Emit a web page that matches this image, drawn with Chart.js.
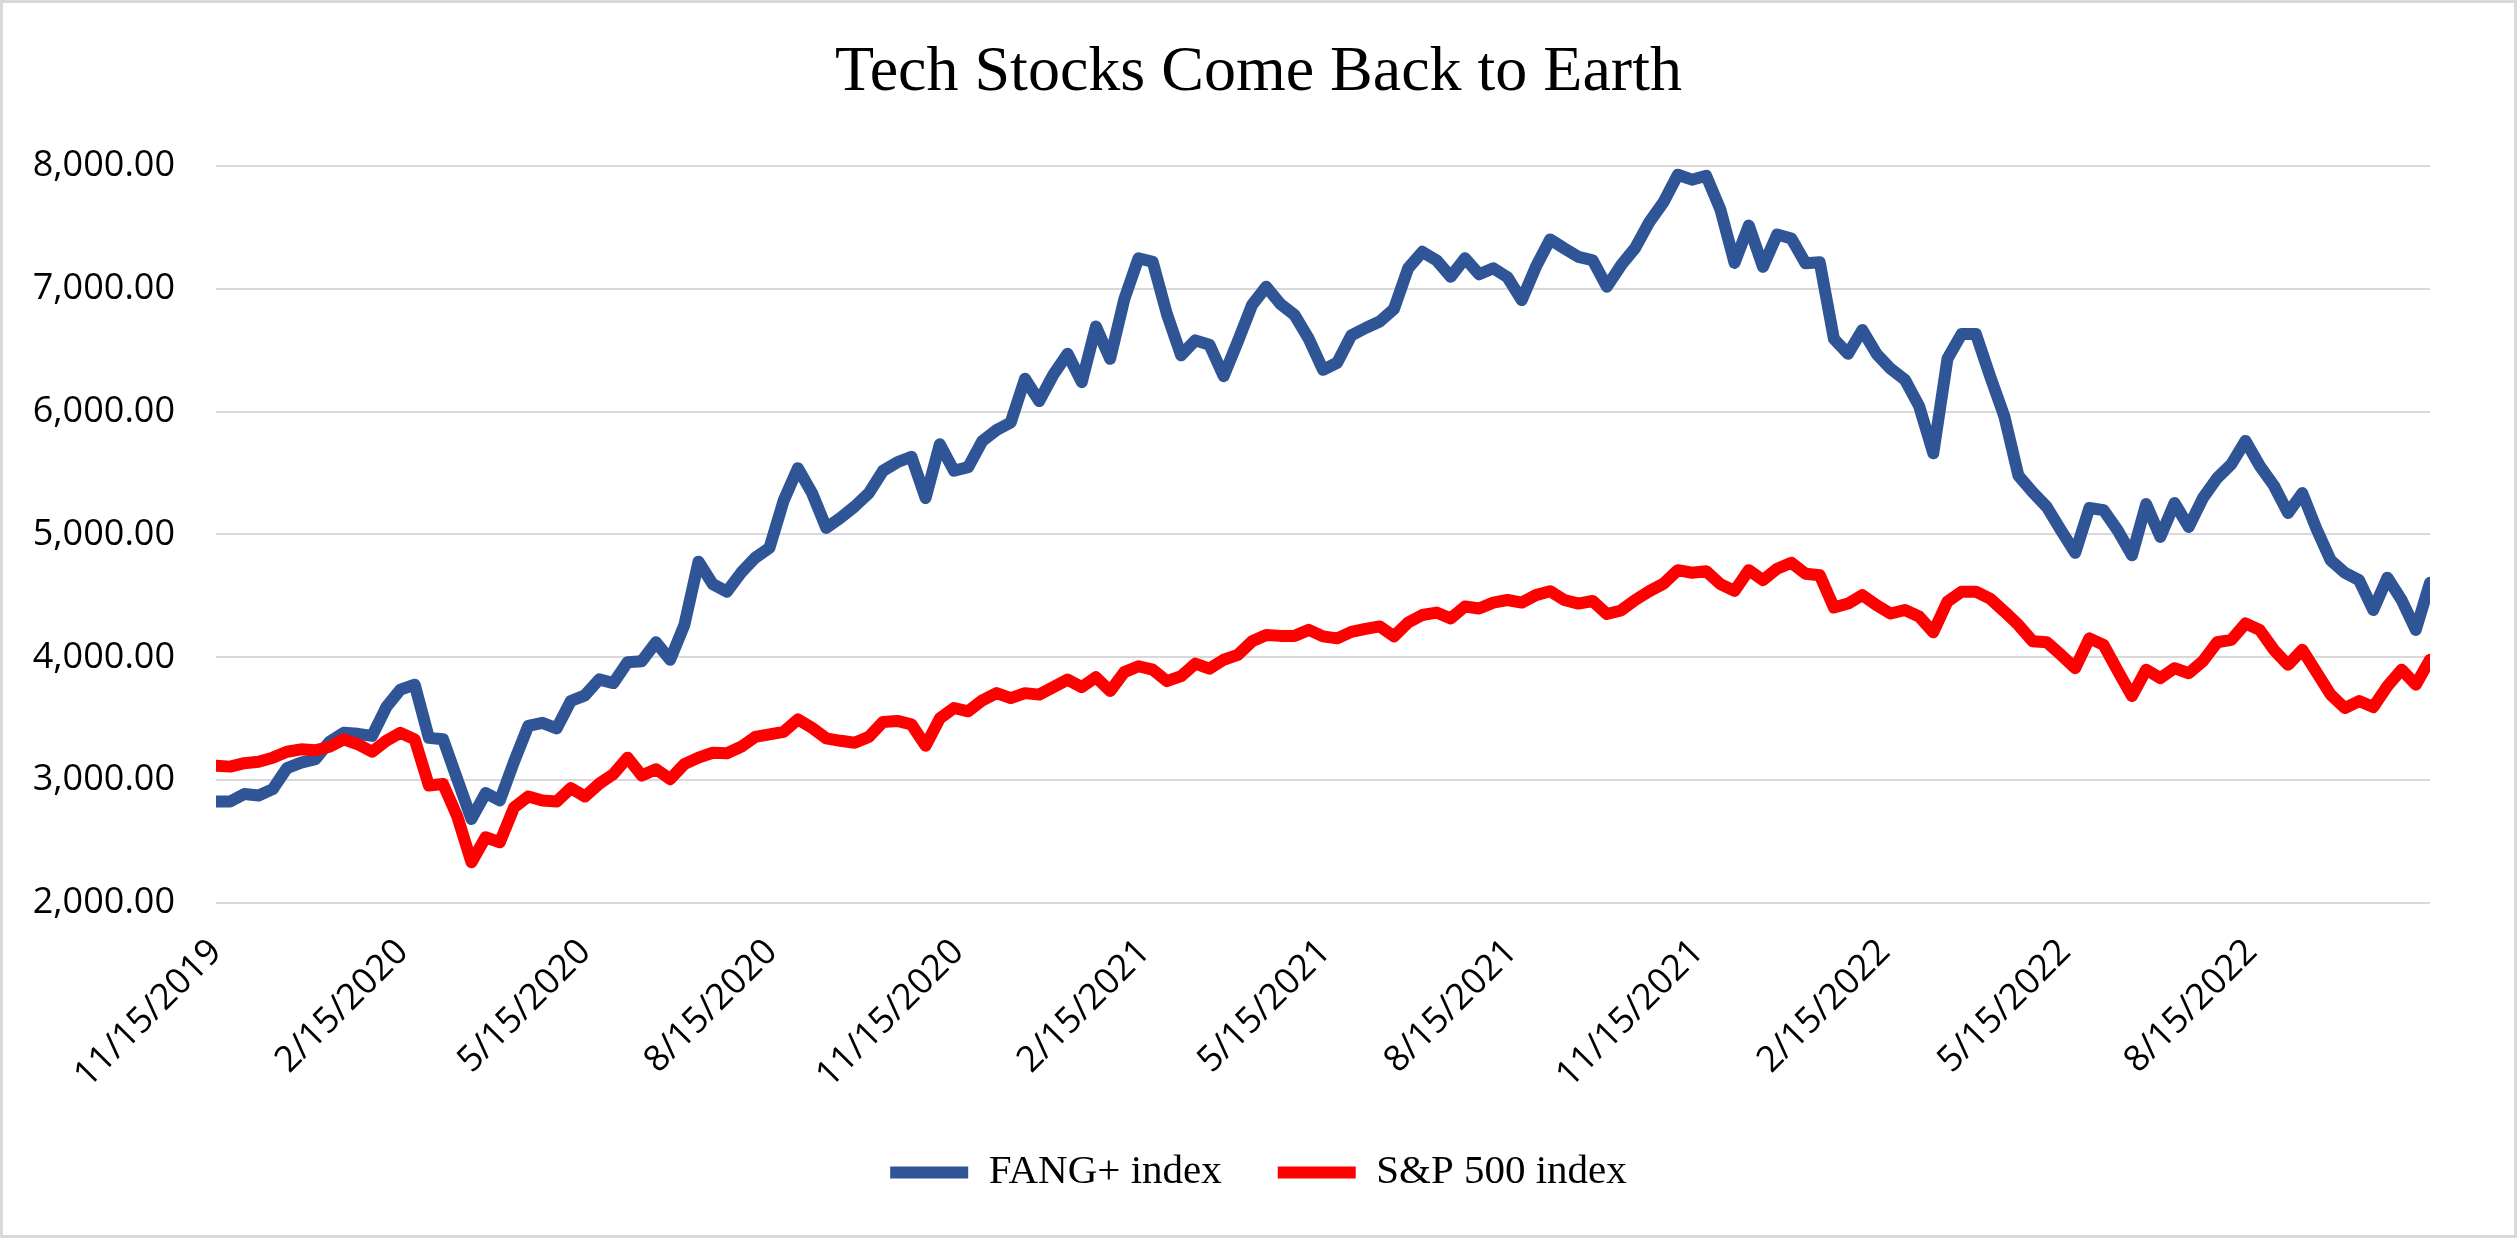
<!DOCTYPE html>
<html>
<head>
<meta charset="utf-8">
<script src="https://cdn.jsdelivr.net/npm/chart.js@4.4.1/dist/chart.umd.min.js"></script>
<style>
  html, body { margin: 0; padding: 0; background: #ffffff; }
  canvas { display: block; }
</style>
</head>
<body>
<canvas id="chart" width="2517" height="1238"></canvas>
<script>
// ---- Data (weekly closes) ----
const dates = [
  '2019-11-15','2019-11-22','2019-11-29','2019-12-06','2019-12-13','2019-12-20','2019-12-27',
  '2020-01-03','2020-01-10','2020-01-17','2020-01-24','2020-01-31','2020-02-07','2020-02-14','2020-02-21','2020-02-28',
  '2020-03-06','2020-03-13','2020-03-20','2020-03-27','2020-04-03','2020-04-10','2020-04-17','2020-04-24',
  '2020-05-01','2020-05-08','2020-05-15','2020-05-22','2020-05-29','2020-06-05','2020-06-12','2020-06-19','2020-06-26',
  '2020-07-03','2020-07-10','2020-07-17','2020-07-24','2020-07-31','2020-08-07','2020-08-14','2020-08-21','2020-08-28',
  '2020-09-04','2020-09-11','2020-09-18','2020-09-25','2020-10-02','2020-10-09','2020-10-16','2020-10-23','2020-10-30',
  '2020-11-06','2020-11-13','2020-11-20','2020-11-27','2020-12-04','2020-12-11','2020-12-18','2020-12-25',
  '2021-01-01','2021-01-08','2021-01-15','2021-01-22','2021-01-29','2021-02-05','2021-02-12','2021-02-19','2021-02-26',
  '2021-03-05','2021-03-12','2021-03-19','2021-03-26','2021-04-02','2021-04-09','2021-04-16','2021-04-23','2021-04-30',
  '2021-05-07','2021-05-14','2021-05-21','2021-05-28','2021-06-04','2021-06-11','2021-06-18','2021-06-25',
  '2021-07-02','2021-07-09','2021-07-16','2021-07-23','2021-07-30','2021-08-06','2021-08-13','2021-08-20','2021-08-27',
  '2021-09-03','2021-09-10','2021-09-17','2021-09-24','2021-10-01','2021-10-08','2021-10-15','2021-10-22','2021-10-29',
  '2021-11-05','2021-11-12','2021-11-19','2021-11-26','2021-12-03','2021-12-10','2021-12-17','2021-12-24','2021-12-31',
  '2022-01-07','2022-01-14','2022-01-21','2022-01-28','2022-02-04','2022-02-11','2022-02-18','2022-02-25',
  '2022-03-04','2022-03-11','2022-03-18','2022-03-25','2022-04-01','2022-04-08','2022-04-15','2022-04-22','2022-04-29',
  '2022-05-06','2022-05-13','2022-05-20','2022-05-27','2022-06-03','2022-06-10','2022-06-17','2022-06-24',
  '2022-07-01','2022-07-08','2022-07-15','2022-07-22','2022-07-29','2022-08-05','2022-08-12','2022-08-19','2022-08-26',
  '2022-09-02','2022-09-09','2022-09-16','2022-09-23','2022-09-30','2022-10-07','2022-10-14','2022-10-21','2022-10-28',
  '2022-11-04','2022-11-11'
];

const fangIndex = [
  2826,2826,2887,2875,2927,3097,3142,
  3170,3312,3385,3377,3360,3595,3737,3777,3344,
  3332,3008,2684,2895,2834,3150,3441,3466,
  3421,3644,3690,3820,3790,3960,3968,4122,3980,
  4263,4778,4595,4534,4688,4810,4891,5276,5539,
  5336,5053,5134,5227,5336,5518,5587,5632,5296,
  5733,5518,5547,5761,5850,5911,6267,6085,
  6300,6470,6239,6692,6429,6915,7247,7219,6794,
  6458,6579,6543,6288,6571,6867,7016,6875,6785,
  6591,6340,6397,6620,6680,6733,6834,7166,
  7300,7231,7097,7247,7117,7166,7093,6907,7178,
  7401,7328,7259,7231,7016,7190,7332,7543,7705,
  7927,7887,7919,7644,7210,7514,7178,7441,7409,
  7207,7215,6591,6470,6664,6470,6348,6259,
  6045,5660,6429,6632,6632,6288,5964,5478,5344,
  5223,5032,4850,5215,5198,5032,4830,5247,
  4980,5255,5061,5296,5458,5571,5761,5559,5397,
  5174,5336,5045,4789,4688,4628,4385,4648,4466,
  4223,4607
];

const sp500Index = [
  3118,3110,3138,3150,3183,3231,3251,
  3243,3272,3332,3292,3231,3320,3385,3332,2956,
  2968,2705,2332,2535,2494,2778,2867,2834,
  2826,2935,2867,2970,3049,3183,3037,3089,3008,
  3130,3183,3223,3219,3271,3352,3372,3393,3494,
  3425,3340,3320,3304,3352,3474,3482,3454,3280,
  3502,3587,3560,3650,3708,3668,3708,3696,
  3757,3818,3757,3838,3725,3879,3927,3899,3806,
  3846,3948,3907,3980,4020,4130,4182,4174,4174,
  4223,4170,4154,4207,4231,4251,4170,4283,
  4344,4364,4316,4413,4397,4445,4466,4445,4506,
  4538,4466,4437,4458,4352,4381,4466,4538,4599,
  4709,4688,4700,4595,4540,4709,4628,4721,4769,
  4680,4668,4405,4437,4506,4425,4356,4385,
  4332,4203,4453,4534,4534,4478,4373,4263,4130,
  4122,4020,3911,4154,4101,3890,3684,3899,
  3830,3911,3870,3968,4122,4142,4275,4223,4061,
  3939,4061,3879,3696,3587,3644,3595,3765,3899,
  3777,3980
];

const seriesNames = ['FANG+ index', 'S&P 500 index'];

const xTickLabels = [
  '11/15/2019','2/15/2020','5/15/2020','8/15/2020','11/15/2020','2/15/2021',
  '5/15/2021','8/15/2021','11/15/2021','2/15/2022','5/15/2022','8/15/2022'
];

const yMin = 2000;
const yMax = 8000;
const yStep = 1000;

const chartTitle = 'Tech Stocks Come Back to Earth';

// ---- helpers ----
const DAY = 86400000;
function isoToDay(s) {
  const [y, m, d] = s.split('-').map(Number);
  return Date.UTC(y, m - 1, d) / DAY;
}
function mdyToDay(s) {
  const [m, d, y] = s.split('/').map(Number);
  return Date.UTC(y, m - 1, d) / DAY;
}
const dayValues = dates.map(isoToDay);
const tickDayMap = new Map(xTickLabels.map(l => [mdyToDay(l), l]));

const frame = {
  id: 'frame',
  beforeDraw(chart) {
    const { ctx, width, height } = chart;
    ctx.save();
    ctx.fillStyle = '#ffffff';
    ctx.fillRect(0, 0, width, height);
    ctx.restore();
  },
  afterDraw(chart) {
    const { ctx, width, height } = chart;
    ctx.save();
    ctx.strokeStyle = '#d9d9d9';
    ctx.lineWidth = 3;
    ctx.strokeRect(1.5, 1.5, width - 3, height - 3);
    ctx.restore();
  }
};

function build() {
  const lineStyle = {
    borderWidth: 12,
    pointRadius: 0,
    pointHoverRadius: 0,
    tension: 0,
    borderJoinStyle: 'round',
    borderCapStyle: 'round',
    fill: false
  };
  new Chart(document.getElementById('chart'), {
    type: 'line',
    data: {
      datasets: [
        Object.assign({
          label: seriesNames[0],
          data: dayValues.map((x, i) => ({ x, y: fangIndex[i] })),
          borderColor: '#2F5597',
          backgroundColor: '#2F5597',
          order: 1
        }, lineStyle),
        Object.assign({
          label: seriesNames[1],
          data: dayValues.map((x, i) => ({ x, y: sp500Index[i] })),
          borderColor: '#FF0000',
          backgroundColor: '#FF0000',
          order: 0
        }, lineStyle)
      ]
    },
    options: {
      responsive: false,
      animation: false,
      devicePixelRatio: 1,
      layout: { padding: { left: 0, right: 0, top: 0, bottom: 35 } },
      plugins: {
        title: {
          display: true,
          text: chartTitle,
          color: '#000000',
          font: { family: 'Liberation Serif', size: 64, weight: 'normal' },
          padding: { top: 35, bottom: 54 }
        },
        legend: {
          position: 'bottom',
          labels: {
            color: '#000000',
            font: { family: 'Liberation Serif', size: 41 },
            usePointStyle: true,
            pointStyle: 'line',
            pointStyleWidth: 78,
            padding: 56,
            sort: (a, b) => a.datasetIndex - b.datasetIndex
          }
        },
        tooltip: { enabled: false }
      },
      scales: {
        x: {
          type: 'linear',
          min: dayValues[0],
          max: dayValues[dayValues.length - 1],
          afterBuildTicks: (scale) => {
            scale.ticks = Array.from(tickDayMap.keys()).map(v => ({ value: v }));
          },
          afterFit: (scale) => { scale.height = 193; },
          grid: { display: false, drawTicks: false },
          border: { display: false },
          ticks: {
            autoSkip: false,
            minRotation: 45,
            maxRotation: 45,
            padding: 28,
            color: '#000000',
            font: { family: 'Open Sans', size: 36 },
            callback: (v) => tickDayMap.get(v) || ''
          }
        },
        y: {
          position: 'left',
          min: yMin,
          max: yMax,
          afterFit: (scale) => { scale.width = 216; },
          grid: { color: '#d9d9d9', lineWidth: 2, drawTicks: false },
          border: { display: false },
          ticks: {
            stepSize: yStep,
            padding: 41,
            color: '#000000',
            font: { family: 'Open Sans', size: 36 },
            callback: (v) => Number(v).toLocaleString('en-US', { minimumFractionDigits: 2, maximumFractionDigits: 2 })
          }
        },
        yRightSpace: {
          position: 'right',
          display: true,
          afterFit: (scale) => { scale.width = 87; },
          grid: { display: false, drawTicks: false },
          border: { display: false },
          ticks: { display: false }
        }
      }
    },
    plugins: [frame]
  });
}

Promise.all([
  document.fonts.load('36px "Open Sans"'),
  document.fonts.load('64px "Liberation Serif"')
]).then(build, build);
</script>
</body>
</html>
